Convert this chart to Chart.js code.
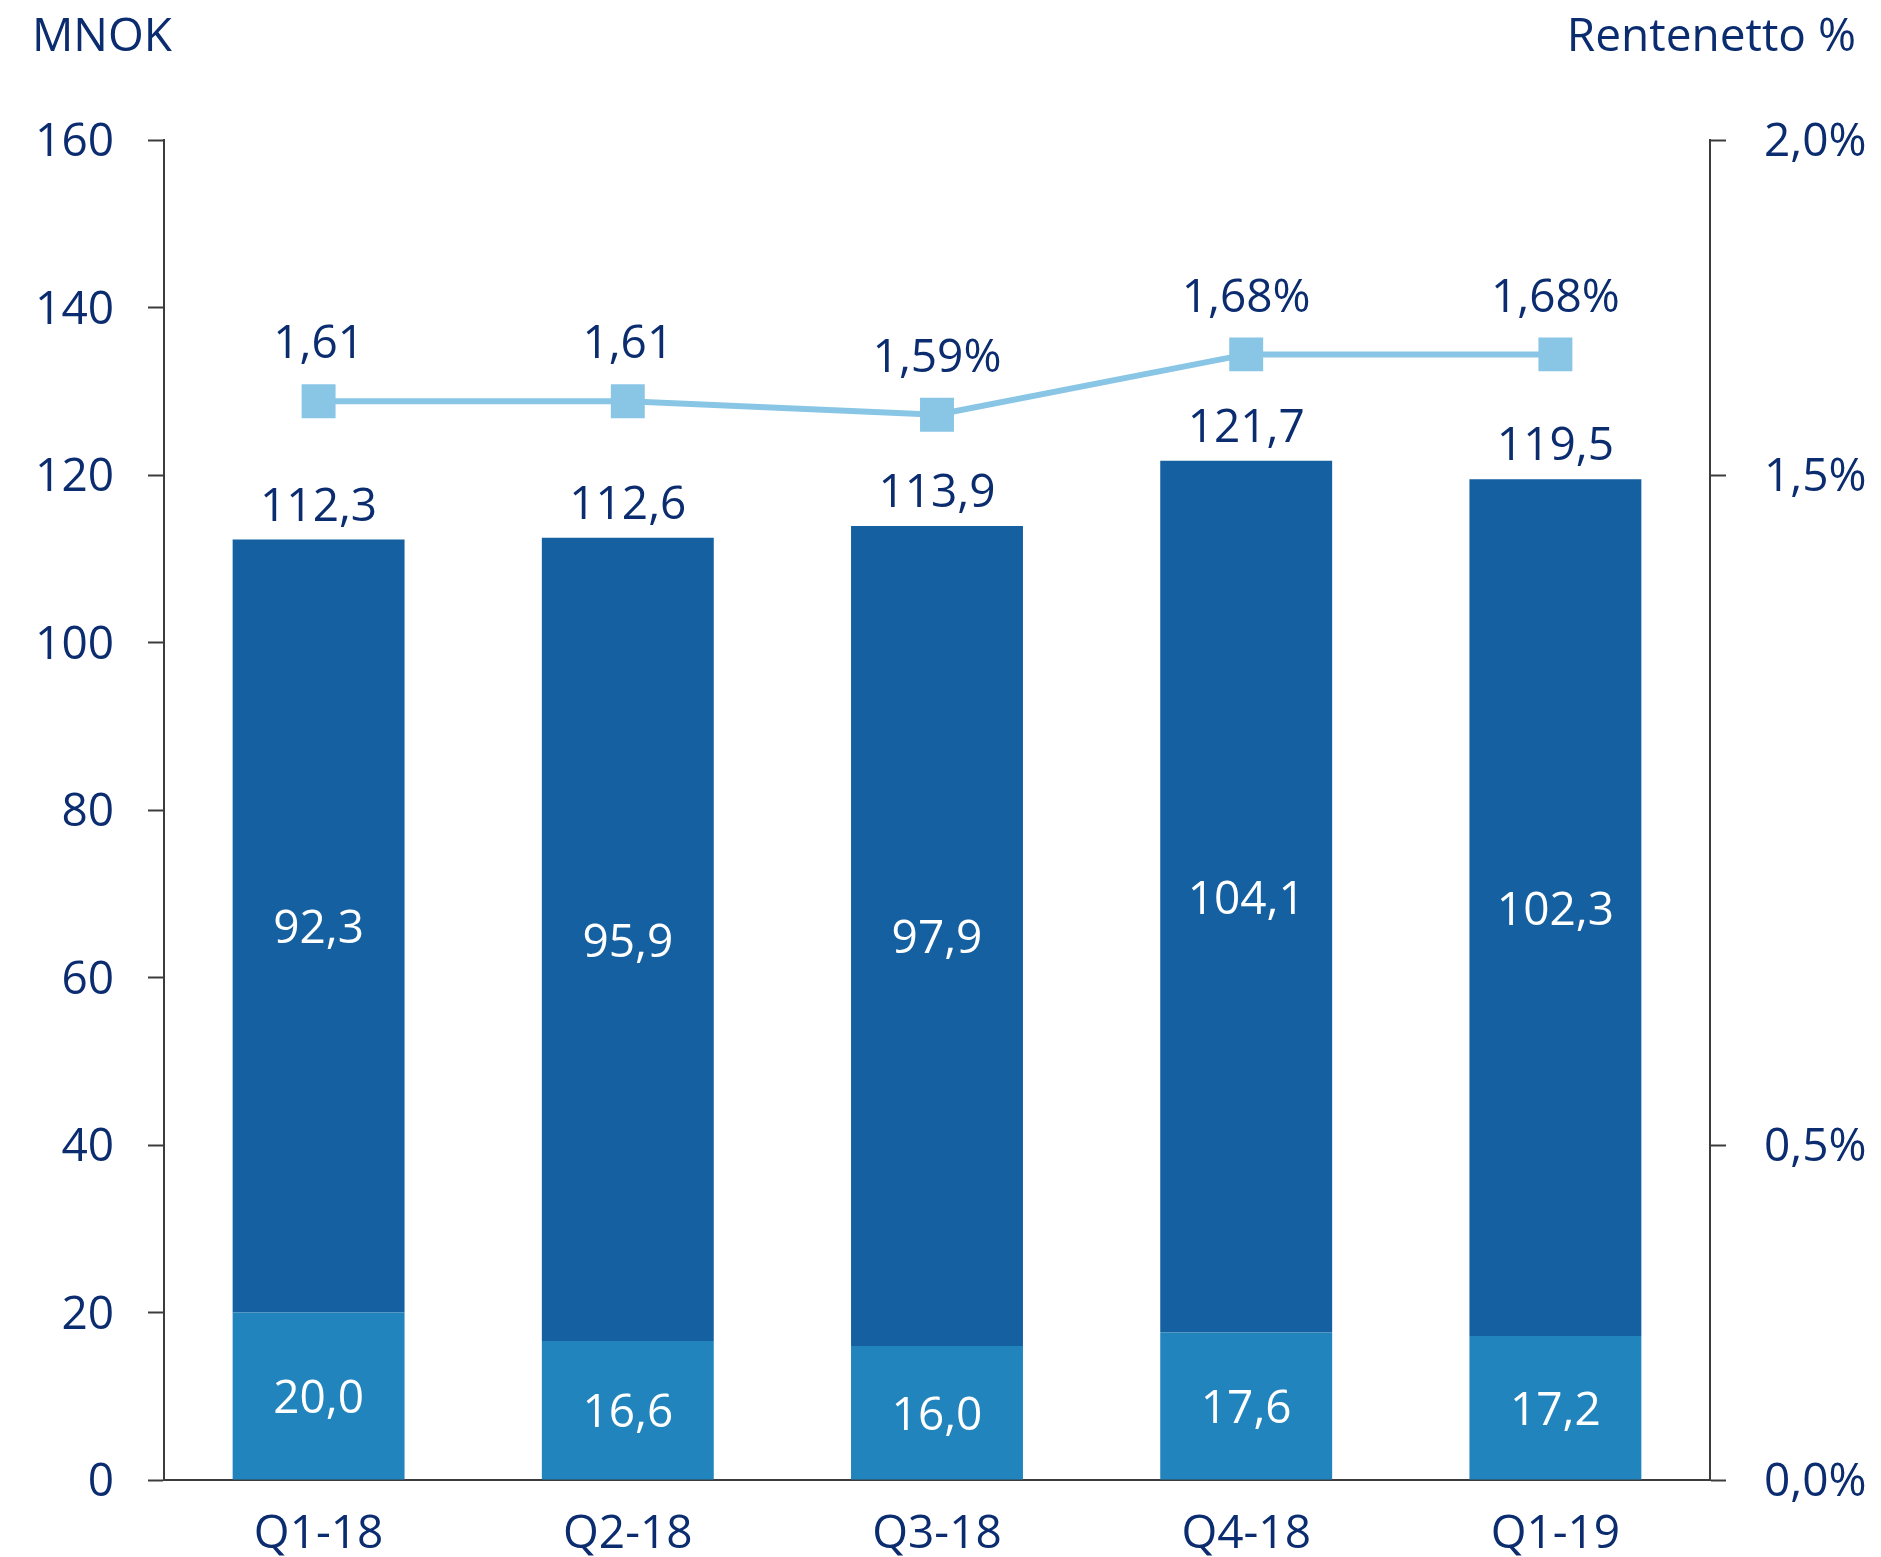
<!DOCTYPE html>
<html>
<head>
<meta charset="utf-8">
<script src="https://cdn.jsdelivr.net/npm/chart.js@4/dist/chart.umd.min.js"></script>
<style>
  html, body { margin: 0; padding: 0; background: #fff; }
  #wrap { width: 1881px; height: 1557px; position: relative; }
</style>
</head>
<body>
<div id="wrap"><canvas id="chart"></canvas></div>
<script>
// Values.
const CATEGORIES = ['Q1-18', 'Q2-18', 'Q3-18', 'Q4-18', 'Q1-19'];
const BOTTOM_VALUES = [20.0, 16.6, 16.0, 17.6, 17.2];
const TOP_VALUES = [92.3, 95.9, 97.9, 104.1, 102.3];
const TOTAL_LABELS = ['112,3', '112,6', '113,9', '121,7', '119,5'];
const MARGIN_PCT = [1.61, 1.61, 1.59, 1.68, 1.68];
const MARGIN_LABELS = ['1,61', '1,61', '1,59%', '1,68%', '1,68%'];
const LEFT_TICKS = [0, 20, 40, 60, 80, 100, 120, 140, 160];
const RIGHT_TICKS = [0, 0.5, 1.5, 2.0];

const COLOR = {
  text: '#0b2d70',
  dark: '#1560a0',
  light: '#2184bd',
  line: '#89c6e6',
  axis: '#3c3c3c',
};

const FONT = "'Open Sans', sans-serif";
const TEXT_NUDGE = 4; // 'middle' baseline sits a little high for this font

function fmt(v, digits) {
  return v.toFixed(digits).replace('.', ',');
}

// Draws the corner titles and all value labels.
const labelsPlugin = {
  id: 'labels',
  afterDatasetsDraw(chart) {
    const ctx = chart.ctx;
    ctx.save();
    ctx.font = `46px ${FONT}`;
    ctx.textBaseline = 'middle';

    ctx.fillStyle = COLOR.text;
    ctx.textAlign = 'left';
    ctx.fillText('MNOK', 32, 38);
    ctx.textAlign = 'right';
    ctx.fillText('Rentenetto %', 1856, 38);

    ctx.textAlign = 'center';
    const bottom = chart.getDatasetMeta(0).data;
    const top = chart.getDatasetMeta(1).data;
    const line = chart.getDatasetMeta(2).data;

    bottom.forEach((el, i) => {
      ctx.fillStyle = '#ffffff';
      ctx.fillText(fmt(BOTTOM_VALUES[i], 1), el.x, (el.y + el.base) / 2 + TEXT_NUDGE);
    });
    top.forEach((el, i) => {
      ctx.fillStyle = '#ffffff';
      ctx.fillText(fmt(TOP_VALUES[i], 1), el.x, (el.y + el.base) / 2 + TEXT_NUDGE);
      ctx.fillStyle = COLOR.text;
      ctx.fillText(TOTAL_LABELS[i], el.x, el.y - 36 + TEXT_NUDGE);
    });
    line.forEach((el, i) => {
      ctx.fillStyle = COLOR.text;
      ctx.fillText(MARGIN_LABELS[i], el.x, el.y - 60 + TEXT_NUDGE);
    });
    ctx.restore();
  },
};

new Chart(document.getElementById('chart'), {
  data: {
    labels: CATEGORIES,
    datasets: [
      {
        type: 'bar',
        label: 'Bottom',
        data: BOTTOM_VALUES,
        backgroundColor: COLOR.light,
        stack: 's',
        yAxisID: 'y',
        order: 2,
        barPercentage: 0.556,
        categoryPercentage: 1,
      },
      {
        type: 'bar',
        label: 'Top',
        data: TOP_VALUES,
        backgroundColor: COLOR.dark,
        stack: 's',
        yAxisID: 'y',
        order: 2,
        barPercentage: 0.556,
        categoryPercentage: 1,
      },
      {
        type: 'line',
        label: 'Rentenetto',
        data: MARGIN_PCT,
        yAxisID: 'y1',
        order: 1,
        borderColor: COLOR.line,
        borderWidth: 6,
        pointStyle: 'rect',
        pointRadius: 24,
        pointBackgroundColor: COLOR.line,
        pointBorderColor: COLOR.line,
        pointBorderWidth: 0,
        tension: 0,
        fill: false,
      },
    ],
  },
  options: {
    responsive: true,
    maintainAspectRatio: false,
    animation: false,
    layout: { padding: { top: 140, left: 0, right: 0, bottom: 0 } },
    plugins: {
      legend: { display: false },
      tooltip: { enabled: false },
    },
    scales: {
      x: {
        stacked: true,
        grid: { display: false, drawTicks: false },
        border: { display: true, color: COLOR.axis, width: 2 },
        ticks: { color: COLOR.text, font: { family: FONT, size: 46 }, padding: 27 },
        afterFit: (s) => { s.height = 77; },
      },
      y: {
        position: 'left',
        stacked: true,
        min: 0,
        max: 160,
        afterBuildTicks: (s) => { s.ticks = LEFT_TICKS.map((v) => ({ value: v })); },
        grid: {
          drawOnChartArea: false,
          drawTicks: true,
          tickLength: 16,
          tickWidth: 2,
          tickColor: COLOR.axis,
        },
        border: { display: true, color: COLOR.axis, width: 2 },
        ticks: { color: COLOR.text, font: { family: FONT, size: 46 }, padding: 34, labelOffset: 3 },
        afterFit: (s) => { s.width = 164; },
      },
      y1: {
        position: 'right',
        min: 0,
        max: 2,
        afterBuildTicks: (s) => { s.ticks = RIGHT_TICKS.map((v) => ({ value: v })); },
        grid: {
          drawOnChartArea: false,
          drawTicks: true,
          tickLength: 16,
          tickWidth: 2,
          tickColor: COLOR.axis,
        },
        border: { display: true, color: COLOR.axis, width: 2 },
        ticks: {
          color: COLOR.text,
          font: { family: FONT, size: 46 },
          padding: 38,
          labelOffset: 3,
          callback: (v) => fmt(v, 1) + '%',
        },
        afterFit: (s) => { s.width = 171; },
      },
    },
  },
  plugins: [labelsPlugin],
});
</script>
</body>
</html>
